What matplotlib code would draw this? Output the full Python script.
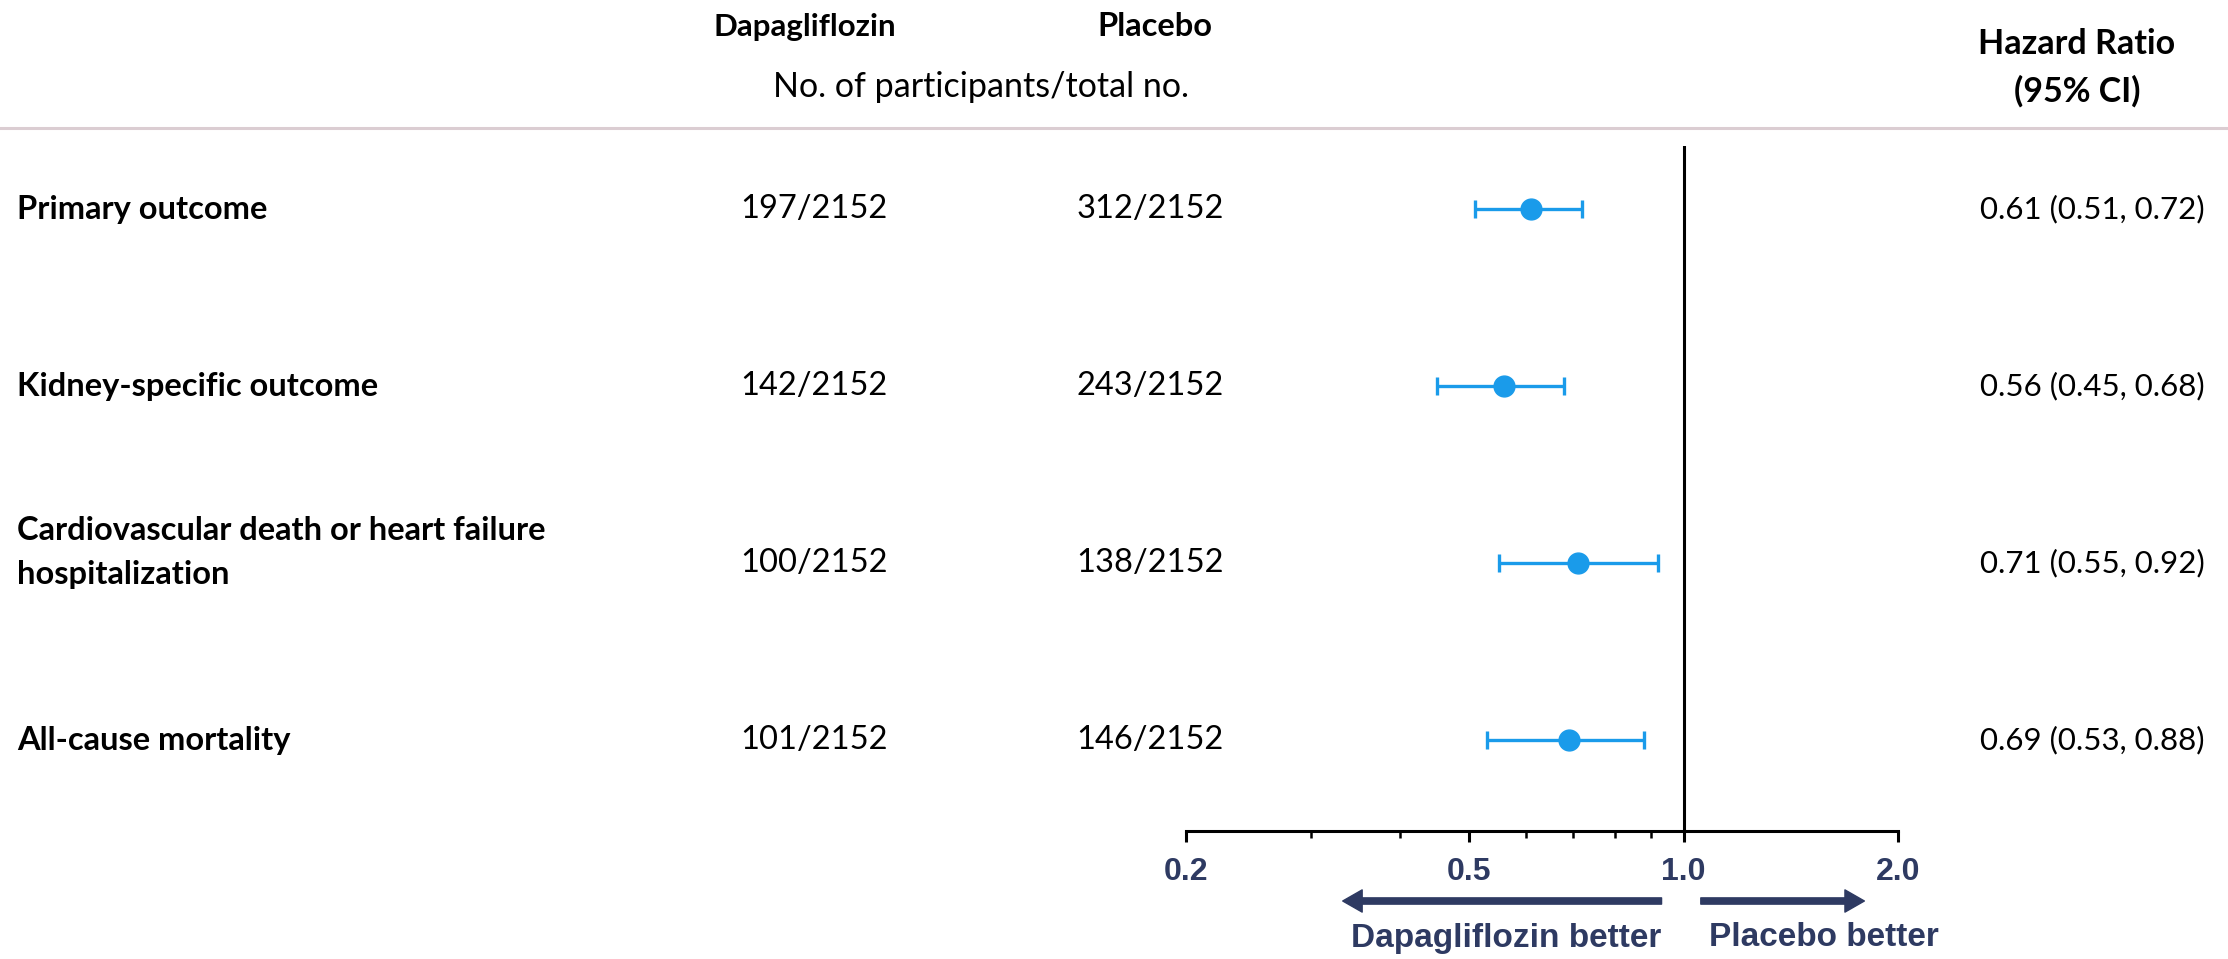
import matplotlib
matplotlib.use("Agg")
import matplotlib.pyplot as plt
from matplotlib.ticker import FixedLocator, FixedFormatter, NullFormatter
from matplotlib.transforms import blended_transform_factory
from matplotlib.lines import Line2D

# ---------------- data ----------------
outcomes = ["Primary outcome", "Kidney-specific outcome",
            "Cardiovascular death or heart failure\nhospitalization", "All-cause mortality"]
dapa_counts = ["197/2152", "142/2152", "100/2152", "101/2152"]
placebo_counts = ["312/2152", "243/2152", "138/2152", "146/2152"]
hr = [0.61, 0.56, 0.71, 0.69]
ci_low = [0.51, 0.45, 0.55, 0.53]
ci_high = [0.72, 0.68, 0.92, 0.88]
major_ticks = [0.2, 0.5, 1.0, 2.0]
major_labels = ["0.2", "0.5", "1.0", "2.0"]
minor_ticks = [0.3, 0.4, 0.6, 0.7, 0.8, 0.9]

W, H = 2228, 959
BLUE = "#1A9BEA"
NAVY = "#2E3A62"
FONT = "Lato"
ARIAL = "Liberation Sans"

fig = plt.figure(figsize=(W / 100, H / 100), dpi=100)

def fx(px):
    return px / W

def fy(py):
    return 1 - py / H

ax = fig.add_axes([fx(1186), fy(831), fx(1898) - fx(1186), fy(146) - fy(831)])
ax.set_xscale("log")
ax.set_xlim(0.2, 2.0)
rows = list(range(len(outcomes)))
ax.set_ylim(3.514, -0.356)

ax.errorbar(hr, rows, xerr=[[h - l for h, l in zip(hr, ci_low)], [u - h for h, u in zip(hr, ci_high)]],
            fmt="o", color=BLUE, ms=15, elinewidth=2.4, capsize=6.5, capthick=2.4, zorder=3)
ax.axvline(1.0, color="black", lw=2.2, zorder=2)

for s in ["left", "top", "right"]:
    ax.spines[s].set_visible(False)
ax.spines["bottom"].set_linewidth(2.2)
ax.set_yticks([])
ax.xaxis.set_major_locator(FixedLocator(major_ticks))
ax.xaxis.set_major_formatter(FixedFormatter(major_labels))
ax.xaxis.set_minor_locator(FixedLocator(minor_ticks))
ax.xaxis.set_minor_formatter(NullFormatter())
ax.tick_params(axis="x", which="major", length=8, width=2.2, pad=11,
               labelsize=23, labelcolor=NAVY)
ax.tick_params(axis="x", which="minor", length=5, width=1.8)
for lab in ax.get_xticklabels():
    lab.set_fontfamily(ARIAL)
    lab.set_fontweight("bold")

# arrows
trans_arrow = blended_transform_factory(ax.transData, fig.transFigure)
ya = fy(901)
ax.annotate("", xy=(0.332, ya), xytext=(0.931, ya), xycoords=trans_arrow, textcoords=trans_arrow,
            arrowprops=dict(width=4.5, headwidth=16, headlength=14, shrink=0, color=NAVY),
            annotation_clip=False)
ax.annotate("", xy=(1.794, ya), xytext=(1.057, ya), xycoords=trans_arrow, textcoords=trans_arrow,
            arrowprops=dict(width=4.5, headwidth=16, headlength=14, shrink=0, color=NAVY),
            annotation_clip=False)
fig.text(fx(1506), fy(938), "Dapagliflozin better", ha="center", va="center",
         family=ARIAL, weight="bold", fontsize=24, color=NAVY)
fig.text(fx(1824), fy(938), "Placebo better", ha="center", va="center",
         family=ARIAL, weight="bold", fontsize=24, color=NAVY)

# headers
fig.text(fx(805), fy(27), "Dapagliflozin", ha="center", va="center", family=FONT, weight="bold", fontsize=22.5)
fig.text(fx(1155), fy(27), "Placebo", ha="center", va="center", family=FONT, weight="bold", fontsize=23.5)
fig.text(fx(981), fy(87), "No. of participants/total no.", ha="center", va="center", family=FONT, fontsize=24.5)
fig.text(fx(2077), fy(44), "Hazard Ratio", ha="center", va="center", family=FONT, weight="bold", fontsize=24.5)
fig.text(fx(2077), fy(91), "(95% CI)", ha="center", va="center", family=FONT, weight="bold", fontsize=24.5)

fig.add_artist(Line2D([0, 1], [fy(128), fy(128)], color="#DBCDD2", lw=2.2))

# table columns
tr = blended_transform_factory(fig.transFigure, ax.transData)
for i, (name, d, p, h, l, u) in enumerate(zip(outcomes, dapa_counts, placebo_counts, hr, ci_low, ci_high)):
    yy = i
    if "\n" in name:
        yy = i - 0.06
    fig.text(fx(17), yy, name, transform=tr, ha="left", va="center", family=FONT, weight="bold",
             fontsize=23.5, linespacing=1.6)
    fig.text(fx(814), i, d, transform=tr, ha="center", va="center", family=FONT, fontsize=23.5)
    fig.text(fx(1150), i, p, transform=tr, ha="center", va="center", family=FONT, fontsize=23.5)
    fig.text(fx(2092), i, f"{h:.2f} ({l:.2f}, {u:.2f})", transform=tr, ha="center", va="center",
             family=FONT, fontsize=22.5)

fig.savefig("out.png", dpi=100)
